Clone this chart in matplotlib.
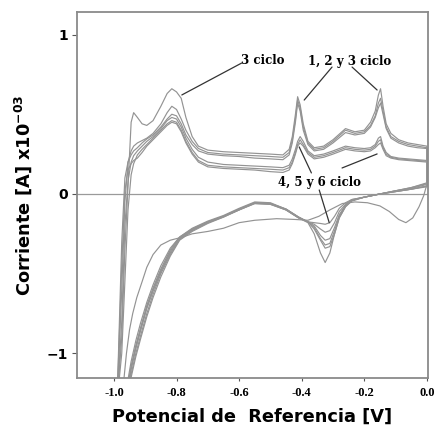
import matplotlib
matplotlib.use('Agg')
import matplotlib.pyplot as plt

# potenciales del barrido anodico (-1.0 V -> 0.0 V), comunes a los 6 ciclos
e_anod = [-0.99, -0.975, -0.965, -0.955, -0.945, -0.937, -0.925, -0.91, -0.895, -0.875,
          -0.85, -0.83, -0.815, -0.80, -0.785, -0.77, -0.75, -0.73, -0.70, -0.65,
          -0.60, -0.55, -0.50, -0.46, -0.44, -0.43, -0.42, -0.413, -0.405, -0.395,
          -0.38, -0.36, -0.33, -0.30, -0.26, -0.23, -0.20, -0.18, -0.165, -0.155,
          -0.148, -0.14, -0.13, -0.115, -0.09, -0.06, -0.03, 0.0]

# corriente anodica (x10^-3 A) por ciclo
i_anod_c1 = [-1.30, -0.30, 0.10, 0.20, 0.245, 0.27, 0.29, 0.32, 0.345, 0.37,
             0.42, 0.47, 0.50, 0.49, 0.44, 0.37, 0.31, 0.27, 0.25, 0.24,
             0.235, 0.225, 0.22, 0.215, 0.245, 0.32, 0.45, 0.57, 0.52, 0.40,
             0.31, 0.27, 0.28, 0.32, 0.385, 0.37, 0.38, 0.42, 0.48, 0.54,
             0.57, 0.50, 0.41, 0.35, 0.32, 0.30, 0.29, 0.285]
i_anod_c2 = [-1.30, -0.60, -0.05, 0.20, 0.27, 0.30, 0.32, 0.335, 0.35, 0.38,
             0.44, 0.51, 0.55, 0.53, 0.47, 0.40, 0.33, 0.285, 0.26, 0.25,
             0.245, 0.24, 0.235, 0.23, 0.26, 0.34, 0.47, 0.59, 0.54, 0.42,
             0.32, 0.28, 0.29, 0.33, 0.40, 0.38, 0.39, 0.43, 0.49, 0.57,
             0.60, 0.52, 0.42, 0.36, 0.33, 0.31, 0.30, 0.29]
i_anod_c3 = [-1.30, -0.90, -0.35, 0.05, 0.45, 0.51, 0.48, 0.44, 0.43, 0.46,
             0.55, 0.63, 0.66, 0.64, 0.60, 0.48, 0.36, 0.30, 0.275, 0.265,
             0.26, 0.255, 0.25, 0.245, 0.28, 0.36, 0.50, 0.61, 0.56, 0.44,
             0.33, 0.29, 0.30, 0.34, 0.41, 0.39, 0.40, 0.45, 0.52, 0.62,
             0.66, 0.55, 0.44, 0.38, 0.34, 0.32, 0.31, 0.30]
i_anod_c4 = [-1.30, -0.80, -0.20, 0.08, 0.20, 0.24, 0.27, 0.30, 0.33, 0.36,
             0.41, 0.46, 0.48, 0.47, 0.42, 0.35, 0.28, 0.23, 0.20, 0.185,
             0.18, 0.175, 0.17, 0.165, 0.18, 0.22, 0.28, 0.33, 0.36, 0.33,
             0.27, 0.24, 0.25, 0.27, 0.30, 0.29, 0.285, 0.29, 0.31, 0.35,
             0.36, 0.30, 0.26, 0.235, 0.225, 0.22, 0.215, 0.21]
i_anod_c5 = [-1.30, -1.00, -0.55, -0.10, 0.12, 0.19, 0.245, 0.28, 0.31, 0.35,
             0.40, 0.44, 0.46, 0.45, 0.40, 0.33, 0.26, 0.21, 0.18, 0.17,
             0.165, 0.16, 0.155, 0.15, 0.165, 0.20, 0.26, 0.31, 0.34, 0.31,
             0.26, 0.23, 0.24, 0.26, 0.29, 0.28, 0.275, 0.28, 0.30, 0.33,
             0.34, 0.29, 0.25, 0.23, 0.22, 0.215, 0.21, 0.205]
i_anod_c6 = [-1.30, -0.45, 0.02, 0.15, 0.19, 0.21, 0.225, 0.26, 0.30, 0.34,
             0.39, 0.43, 0.45, 0.44, 0.39, 0.32, 0.25, 0.20, 0.17, 0.16,
             0.155, 0.15, 0.14, 0.135, 0.15, 0.19, 0.25, 0.30, 0.32, 0.30,
             0.25, 0.22, 0.23, 0.25, 0.28, 0.27, 0.265, 0.27, 0.29, 0.31,
             0.32, 0.28, 0.24, 0.225, 0.215, 0.21, 0.205, 0.20]

# barrido catodico (0.0 V -> -1.0 V)
e_cat = [0.0, -0.05, -0.10, -0.15, -0.20, -0.24, -0.26, -0.28, -0.295, -0.31,
         -0.325, -0.34, -0.36, -0.38, -0.41, -0.45, -0.50, -0.55, -0.60, -0.65,
         -0.70, -0.75, -0.79, -0.82, -0.85, -0.875, -0.895, -0.915, -0.93, -0.945,
         -0.96, -0.975]

i_cat_c1 = [0.06, 0.035, 0.02, 0.0, -0.02, -0.04, -0.075, -0.14, -0.23, -0.31,
            -0.32, -0.28, -0.21, -0.175, -0.145, -0.095, -0.06, -0.055, -0.095, -0.14,
            -0.175, -0.22, -0.275, -0.36, -0.48, -0.60, -0.71, -0.85, -0.96, -1.09,
            -1.27, -1.50]
i_cat_c2 = [0.065, 0.04, 0.02, 0.0, -0.02, -0.045, -0.08, -0.15, -0.25, -0.33,
            -0.34, -0.29, -0.22, -0.175, -0.15, -0.10, -0.06, -0.055, -0.10, -0.145,
            -0.18, -0.225, -0.28, -0.37, -0.49, -0.61, -0.72, -0.86, -0.97, -1.10,
            -1.28, -1.50]
i_cat_c3 = [0.07, 0.04, 0.02, 0.0, -0.02, -0.04, -0.08, -0.15, -0.25, -0.37,
            -0.43, -0.37, -0.25, -0.18, -0.15, -0.10, -0.065, -0.06, -0.10, -0.14,
            -0.175, -0.22, -0.27, -0.35, -0.47, -0.59, -0.70, -0.84, -0.95, -1.08,
            -1.25, -1.50]
i_cat_c4 = [0.05, 0.03, 0.015, 0.0, -0.02, -0.04, -0.07, -0.13, -0.21, -0.28,
            -0.29, -0.26, -0.20, -0.175, -0.145, -0.095, -0.055, -0.05, -0.09, -0.135,
            -0.17, -0.215, -0.27, -0.34, -0.45, -0.57, -0.68, -0.81, -0.92, -1.05,
            -1.22, -1.50]
i_cat_c5 = [0.05, 0.03, 0.015, 0.0, -0.02, -0.035, -0.065, -0.11, -0.18, -0.23,
            -0.24, -0.22, -0.19, -0.175, -0.145, -0.095, -0.06, -0.055, -0.095, -0.14,
            -0.18, -0.23, -0.285, -0.38, -0.50, -0.63, -0.75, -0.89, -1.00, -1.13,
            -1.30, -1.50]
i_cat_c6 = [0.045, 0.03, 0.015, 0.0, -0.02, -0.035, -0.055, -0.09, -0.14, -0.18,
            -0.19, -0.185, -0.18, -0.175, -0.15, -0.10, -0.065, -0.06, -0.10, -0.145,
            -0.185, -0.235, -0.29, -0.39, -0.52, -0.65, -0.77, -0.91, -1.02, -1.15,
            -1.32, -1.50]

# barrido inicial (electrodo limpio)
e_ini = [0.0, -0.01, -0.025, -0.045, -0.067, -0.09, -0.12, -0.15, -0.19, -0.23,
         -0.27, -0.31, -0.345, -0.38, -0.42, -0.48, -0.55, -0.60, -0.65, -0.70,
         -0.75, -0.78, -0.82, -0.85, -0.875, -0.895, -0.91, -0.927, -0.94, -0.95,
         -0.96, -0.975]
i_ini = [0.06, -0.01, -0.08, -0.15, -0.18, -0.16, -0.11, -0.075, -0.055, -0.05,
         -0.06, -0.10, -0.14, -0.165, -0.16, -0.155, -0.165, -0.18, -0.215, -0.235,
         -0.25, -0.27, -0.29, -0.32, -0.38, -0.46, -0.55, -0.65, -0.75, -0.85,
         -1.0, -1.3]

xticks = [-1.0, -0.8, -0.6, -0.4, -0.2, 0.0]
xtick_labels = ['-1.0', '-0.8', '-0.6', '-0.4', '-0.2', '0.0']
yticks = [1, 0, -1]
ytick_labels = ['1', '0', '\u22121']

anodicas = [i_anod_c1, i_anod_c2, i_anod_c3, i_anod_c4, i_anod_c5, i_anod_c6]
catodicas = [i_cat_c1, i_cat_c2, i_cat_c3, i_cat_c4, i_cat_c5, i_cat_c6]

plt.rcParams['mathtext.default'] = 'bf'

fig = plt.figure(figsize=(4.4, 4.3), dpi=100)
ax = fig.add_axes([0.175, 0.121, 0.798, 0.851])

gris = '#939393'
ax.axhline(0, color='#9a9a9a', lw=0.9, zorder=1)
for ia, ic in zip(anodicas, catodicas):
    ax.plot(e_anod + e_cat, ia + ic, color=gris, lw=0.85, zorder=2)
ax.plot(e_ini, i_ini, color=gris, lw=0.85, zorder=2)

ax.set_xlim(-1.118, 0.004)
ax.set_ylim(-1.154, 1.141)

ax.set_xticks(xticks)
ax.set_xticklabels(xtick_labels, family='Liberation Serif', fontweight='bold', fontsize=9)
ax.set_yticks(yticks)
ax.set_yticklabels(ytick_labels, fontweight='bold', fontsize=10)
ax.tick_params(axis='x', length=2.5, pad=4, color='#555555')
ax.tick_params(axis='y', length=3.5, pad=3, color='#555555')
for s in ax.spines.values():
    s.set_color('#8a8a8a')
    s.set_linewidth(1.3)

ax.set_xlabel('Potencial de  Referencia [V]', fontsize=12.8, fontweight='bold', labelpad=6)
ax.set_ylabel('Corriente [A] x10$^{-03}$', fontsize=12.8, fontweight='bold', labelpad=9)

# etiquetas de ciclos con lineas guia
fnt = dict(family='DejaVu Serif', fontweight='bold', fontsize=8.5, ha='center', va='center')
ax.text(-0.525, 0.840, '3 ciclo', **fnt)
ax.text(-0.248, 0.828, '1, 2 y 3 ciclo', **fnt)
ax.text(-0.344, 0.075, '4, 5 y 6 ciclo', **fnt)

guias = [((-0.592, 0.821), (-0.783, 0.621)),
         ((-0.303, 0.796), (-0.392, 0.589)),
         ((-0.239, 0.796), (-0.159, 0.652)),
         ((-0.369, 0.132), (-0.408, 0.295)),
         ((-0.271, 0.163), (-0.159, 0.251)),
         ((-0.344, 0.025), (-0.312, -0.180))]
for p0, p1 in guias:
    ax.annotate('', xy=p1, xytext=p0,
                arrowprops=dict(arrowstyle='-', color='#333333', lw=0.9,
                                shrinkA=0, shrinkB=0))

plt.savefig('out.png', dpi=100)
